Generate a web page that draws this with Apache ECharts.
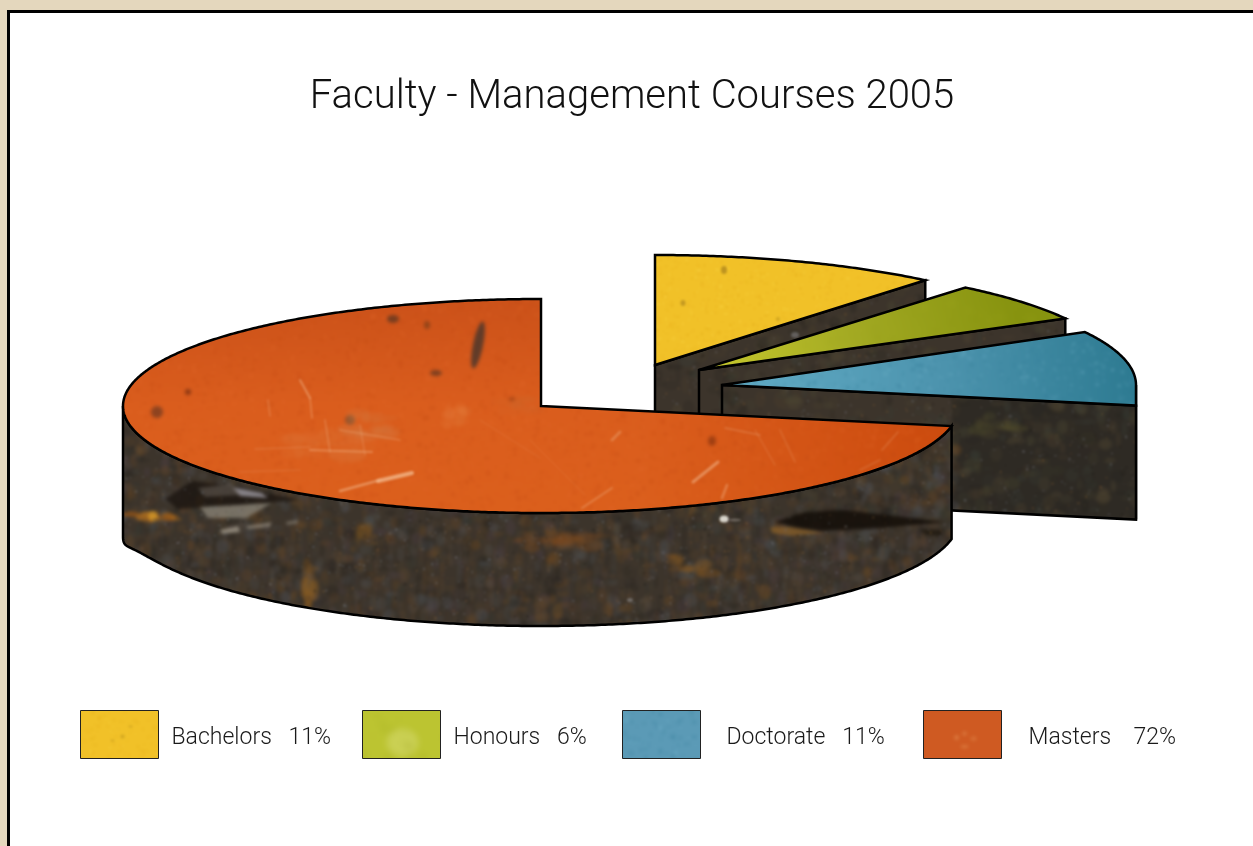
<!DOCTYPE html>
<html>
<head>
<meta charset="utf-8">
<title>Faculty - Management Courses 2005</title>
<style>
  html, body { margin: 0; height: 100%; background: #e4d7bd; overflow: hidden; }
  #frame { position: absolute; left: 7px; top: 10px; right: -10px; bottom: -10px; background: #fff; border-left: 3px solid #000; border-top: 3px solid #000; }
  #chart { position: absolute; left: 0; top: 0; width: 1253px; height: 846px; }
</style>
<script src="https://cdn.jsdelivr.net/npm/echarts@6/dist/echarts.min.js"></script>
</head>
<body>
<div id="frame"></div>
<div id="chart"></div>
<script>
const titleText = 'Faculty - Management Courses 2005'
const categories = ['Bachelors', 'Honours', 'Doctorate', 'Masters']
const percents = [11, 6, 11, 72]

// pie geometry, the slices are pulled away from the centre by hand like in the original
const center = [541, 406]
const sliceRx = [424, 418, 414, 418]
const sliceRy = [110, 107, 110, 107]
const explode = [[114, -41], [158, -36], [181, -21], [0, 0]]
const legendLeft = [80, 362, 622, 923]
const legendTextGap = [8, 8, 21, 22]
const legendSpaces = ['   ', '   ', '   ', '    ']

// small seeded generator, only used for the paint textures
let seed = 7
function rnd(a, b) {
  seed = (seed * 16807) % 2147483647
  return a + (b - a) * (seed / 2147483647)
}
function pick(list) {
  return list[Math.floor(rnd(0, list.length))]
}

function newTexture(paint) {
  const c = document.createElement('canvas')
  c.width = 1253
  c.height = 846
  paint(c.getContext('2d'))
  return { image: c, repeat: 'repeat' }
}

// blur what is painted so far, once for the whole canvas
function soften(ctx, px) {
  const tmp = document.createElement('canvas')
  tmp.width = 1253
  tmp.height = 846
  tmp.getContext('2d').drawImage(ctx.canvas, 0, 0)
  ctx.filter = 'blur(' + px + 'px)'
  ctx.drawImage(tmp, 0, 0)
  ctx.filter = 'none'
}

function grain(ctx, count, colors, size, alpha) {
  for (let i = 0; i < count; i++) {
    ctx.globalAlpha = rnd(alpha * 0.4, alpha)
    ctx.fillStyle = pick(colors)
    ctx.fillRect(rnd(0, 1253), rnd(0, 846), rnd(1, size), rnd(1, size))
  }
  ctx.globalAlpha = 1
}

function blob(ctx, x, y, w, h, color, alpha, rot) {
  ctx.globalAlpha = alpha
  ctx.fillStyle = color
  ctx.beginPath()
  ctx.ellipse(x, y, w, h, rot || 0, 0, Math.PI * 2)
  ctx.fill()
  ctx.globalAlpha = 1
}

// a patch of small blots, looks less like a drawn ellipse
function patch(ctx, x, y, w, h, colors, alpha, count) {
  for (let i = 0; i < count; i++) {
    blob(ctx, x + rnd(-w, w), y + rnd(-h, h), rnd(2, w / 2 + 3), rnd(1.5, h / 2 + 2), pick(colors), rnd(alpha * 0.4, alpha))
  }
}

function shape(ctx, pts, color, alpha) {
  ctx.globalAlpha = alpha
  ctx.fillStyle = color
  ctx.beginPath()
  pts.forEach((p, i) => (i ? ctx.lineTo(p[0], p[1]) : ctx.moveTo(p[0], p[1])))
  ctx.closePath()
  ctx.fill()
  ctx.globalAlpha = 1
}

function scratch(ctx, x1, y1, x2, y2, width, alpha) {
  ctx.globalAlpha = alpha
  ctx.strokeStyle = '#f2b68a'
  ctx.lineWidth = width
  ctx.lineCap = 'round'
  ctx.beginPath()
  ctx.moveTo(x1, y1)
  ctx.lineTo(x2, y2)
  ctx.stroke()
  ctx.globalAlpha = 1
}

const yellowPaint = newTexture(ctx => {
  ctx.fillStyle = '#f1c128'
  ctx.fillRect(0, 0, 1253, 846)
  grain(ctx, 30000, ['#f6cf3c', '#e8b31e', '#eeb926'], 4, 0.5)
  blob(ctx, 724, 270, 3, 4, '#a8801c', 0.7)
  blob(ctx, 683, 303, 2.5, 3, '#a8801c', 0.6)
  blob(ctx, 778, 319, 2, 2, '#b88f1c', 0.5)
  blob(ctx, 42, 26, 2, 2, '#b88f1c', 0.5)
  blob(ctx, 50, 16, 2, 1, '#b88f1c', 0.5)
  blob(ctx, 32, 30, 2, 1, '#b88f1c', 0.5)
  soften(ctx, 1)
})

const olivePaint = newTexture(ctx => {
  const g = ctx.createLinearGradient(730, 370, 1010, 290)
  g.addColorStop(0, '#c2c42c')
  g.addColorStop(0.45, '#a2a922')
  g.addColorStop(1, '#87930f')
  ctx.fillStyle = g
  ctx.fillRect(0, 0, 1253, 846)
  ctx.fillStyle = '#bcc431'
  ctx.fillRect(0, 0, 90, 60)
  blob(ctx, 40, 32, 16, 14, '#cdd35c', 0.8)
  grain(ctx, 9000, ['#b8bb30', '#88900f', '#9aa31c'], 7, 0.25)
  soften(ctx, 3)
})

const bluePaint = newTexture(ctx => {
  const g = ctx.createLinearGradient(760, 390, 1130, 370)
  g.addColorStop(0, '#5ea8c2')
  g.addColorStop(0.5, '#4c93ad')
  g.addColorStop(1, '#2e7b92')
  ctx.fillStyle = g
  ctx.fillRect(0, 0, 1253, 846)
  ctx.fillStyle = '#5b9ab6'
  ctx.fillRect(0, 0, 90, 60)
  grain(ctx, 30000, ['#6fb0c8', '#367f9a', '#4a8fa8'], 5, 0.3)
  soften(ctx, 1.5)
})

const orangePaint = newTexture(ctx => {
  const g = ctx.createLinearGradient(0, 300, 0, 513)
  g.addColorStop(0, '#cb5119')
  g.addColorStop(0.5, '#da5d1d')
  g.addColorStop(1, '#db5f1c')
  ctx.fillStyle = g
  ctx.fillRect(0, 0, 1253, 846)
  const r = ctx.createLinearGradient(640, 0, 950, 0)
  r.addColorStop(0, 'rgba(200,70,10,0)')
  r.addColorStop(1, 'rgba(200,70,10,0.8)')
  ctx.fillStyle = r
  ctx.fillRect(640, 400, 320, 120)
  grain(ctx, 26000, ['#e2682a', '#c44c15', '#d85a1c'], 5, 0.35)
  // top left corner is what the legend swatch shows
  ctx.fillStyle = '#cf5a22'
  ctx.fillRect(0, 0, 90, 60)
  blob(ctx, 33, 27, 2, 2, '#ea9a5c', 0.7)
  blob(ctx, 41, 23, 2, 2, '#ea9a5c', 0.6)
  blob(ctx, 41, 36, 4, 1.5, '#ea9a5c', 0.5)
  blob(ctx, 50, 28, 3, 2, '#ea9a5c', 0.4)
  // marks on the metal
  blob(ctx, 478, 345, 5, 24, '#4e372c', 0.85, 0.2)
  blob(ctx, 393, 319, 6, 4, '#6a3a20', 0.85)
  blob(ctx, 427, 325, 3, 4, '#7a3d18', 0.7)
  blob(ctx, 436, 373, 6, 3, '#6a3a20', 0.8)
  blob(ctx, 157, 412, 6, 6, '#7a3d20', 0.8)
  blob(ctx, 188, 392, 3, 3, '#7a3010', 0.8)
  blob(ctx, 350, 420, 5, 5, '#7a5030', 0.7)
  blob(ctx, 712, 441, 4, 5, '#8a3410', 0.7)
  blob(ctx, 512, 399, 3, 2, '#8a3410', 0.6)
  patch(ctx, 455, 415, 10, 10, ['#e88a48'], 0.18, 14)
  patch(ctx, 515, 405, 22, 8, ['#c8703a'], 0.12, 14)
  patch(ctx, 370, 425, 24, 12, ['#d08a58'], 0.14, 20)
  patch(ctx, 330, 445, 40, 14, ['#e08850'], 0.12, 24)
  soften(ctx, 1.5)
  scratch(ctx, 340, 491, 380, 480, 2.5, 0.55)
  scratch(ctx, 378, 481, 412, 473, 4, 0.8)
  scratch(ctx, 300, 380, 310, 398, 2, 0.5)
  scratch(ctx, 310, 398, 312, 418, 1.5, 0.4)
  scratch(ctx, 268, 400, 270, 416, 1.5, 0.3)
  scratch(ctx, 310, 450, 372, 452, 2, 0.4)
  scratch(ctx, 340, 430, 400, 440, 1.5, 0.3)
  scratch(ctx, 325, 420, 330, 452, 1.5, 0.35)
  scratch(ctx, 360, 425, 365, 455, 1.5, 0.25)
  scratch(ctx, 255, 449, 310, 447, 1.5, 0.2)
  scratch(ctx, 240, 472, 300, 470, 1.5, 0.15)
  scratch(ctx, 582, 508, 612, 488, 2, 0.35)
  scratch(ctx, 693, 482, 718, 462, 3, 0.55)
  scratch(ctx, 755, 430, 775, 465, 1.2, 0.22)
  scratch(ctx, 725, 428, 760, 435, 1.5, 0.3)
  scratch(ctx, 780, 430, 795, 462, 1.5, 0.22)
  scratch(ctx, 612, 440, 620, 432, 3, 0.35)
  scratch(ctx, 882, 450, 898, 432, 1.5, 0.25)
  scratch(ctx, 722, 498, 727, 485, 2.5, 0.4)
  scratch(ctx, 860, 470, 880, 460, 1.5, 0.22)
  scratch(ctx, 480, 420, 540, 458, 1, 0.15)
  scratch(ctx, 530, 440, 585, 495, 1, 0.14)
  soften(ctx, 1)
})

const rustPaint = newTexture(ctx => {
  ctx.fillStyle = '#3c342b'
  ctx.fillRect(0, 0, 1253, 846)
  // the darker back slices, grime with a bit of olive
  ctx.fillStyle = '#2e2a24'
  ctx.fillRect(952, 380, 300, 150)
  for (let i = 0; i < 900; i++) {
    blob(ctx, rnd(650, 1140), rnd(280, 520), rnd(2, 9), rnd(2, 9), pick(['#4a4632', '#26241f', '#544a34', '#3a4038', '#2e2a24', '#4a3e2c']), rnd(0.12, 0.4))
  }
  // rust and soot on the big wall, no real direction to it
  const wallColors = ['#5a4630', '#2a2620', '#62452a', '#4c4c4a', '#463a2c', '#6e4a24', '#35362f', '#4a3e42', '#24201c', '#50545a']
  for (let i = 0; i < 3000; i++) {
    blob(ctx, rnd(110, 960), rnd(430, 630), rnd(1.5, 7), rnd(2, 8), pick(wallColors), rnd(0.15, 0.45))
  }
  for (let i = 0; i < 1200; i++) {
    ctx.globalAlpha = rnd(0.08, 0.25)
    ctx.fillStyle = pick(wallColors)
    ctx.fillRect(rnd(110, 960), rnd(520, 630), rnd(1, 4), rnd(8, 30))
  }
  ctx.globalAlpha = 1
  patch(ctx, 312, 585, 7, 20, ['#8a5a20', '#a06a24'], 0.45, 12)
  patch(ctx, 365, 530, 10, 14, ['#80561e'], 0.35, 8)
  patch(ctx, 690, 565, 22, 10, ['#8a5a22', '#96601e'], 0.4, 12)
  patch(ctx, 565, 540, 40, 8, ['#7a4a20', '#8a4e1c'], 0.4, 16)
  patch(ctx, 150, 517, 24, 4, ['#a86a20', '#8a5018'], 0.8, 12)
  blob(ctx, 153, 516, 5, 5, '#d09428', 0.85)
  patch(ctx, 1000, 425, 24, 10, ['#4e4a2c', '#55502e'], 0.45, 10)
  // dark gash on the left and its pale metal
  shape(ctx, [[165, 499], [192, 481], [240, 487], [300, 500], [240, 505], [178, 509]], '#1c1510', 0.8)
  shape(ctx, [[200, 507], [272, 503], [246, 518], [208, 518]], '#827c70', 0.85)
  shape(ctx, [[232, 487], [262, 493], [268, 498], [240, 496]], '#a09ca4', 0.8)
  shape(ctx, [[198, 488], [232, 484], [240, 495], [205, 497]], '#6e665e', 0.5)
  shape(ctx, [[220, 530], [238, 526], [240, 532], [222, 534]], '#a8a090', 0.75)
  shape(ctx, [[246, 526], [272, 522], [270, 527], [248, 529]], '#988f80', 0.7)
  shape(ctx, [[286, 522], [298, 520], [298, 523], [287, 525]], '#988f80', 0.6)
  // dark gash on the right
  shape(ctx, [[775, 522], [805, 512], [845, 510], [945, 522], [880, 528], [820, 531], [790, 526]], '#150f0a', 0.9)
  shape(ctx, [[770, 527], [790, 527], [825, 533], [790, 536], [772, 533]], '#8a602a', 0.75)
  shape(ctx, [[920, 529], [945, 530], [940, 536], [925, 535]], '#1a140c', 0.7)
  soften(ctx, 1.8)
  blob(ctx, 724, 519, 4.5, 3.5, '#e8e4dc', 0.9)
  blob(ctx, 735, 520, 6, 1.5, '#a09890', 0.5)
  blob(ctx, 795, 335, 4, 3, '#8c8c90', 0.5)
  blob(ctx, 630, 600, 3, 2, '#9a9a9c', 0.5)
  grain(ctx, 9000, ['#7c7c84', '#5a5450', '#8a6034', '#1e1a16', '#6a7480'], 3, 0.35)
  soften(ctx, 0.8)
})

const paints = [yellowPaint, olivePaint, bluePaint, orangePaint]
const stroke = { stroke: '#000', lineWidth: 2.5, lineJoin: 'miter' }

// turned clockwise from 12 o'clock, in degrees
// the pulled out slices stop widening past 3 o'clock, their corner sits straight under the rim
function edge(c, deg, index, extra) {
  const t = deg * Math.PI / 180
  const s = index !== 3 && deg > 90 ? 1 : Math.sin(t)
  return [c[0] + sliceRx[index] * s, c[1] - sliceRy[index] * Math.cos(t) + (extra || 0)]
}

// the big slab is a bit deeper at its far left corner
function depthAt(deg, index) {
  if (index !== 3) return 114
  const s = Math.max(0, -Math.sin(deg * Math.PI / 180))
  return 113 + 18 * Math.pow(s, 40)
}

function arcPoints(c, from, to, index, lower) {
  const pts = []
  const n = Math.max(2, Math.ceil(Math.abs(to - from) * 2))
  for (let i = 0; i <= n; i++) {
    const d = from + (to - from) * i / n
    pts.push(edge(c, d, index, lower ? depthAt(d, index) : 0))
  }
  return pts
}

function renderSlice(index) {
  return function (params, api) {
    const start = percents.slice(0, index).reduce((a, b) => a + b, 0) * 3.6
    const end = start + api.value(0) * 3.6
    const c = [center[0] + explode[index][0], center[1] + explode[index][1]]
    const d = depthAt(end, index)
    const rust = Object.assign({ fill: rustPaint }, stroke)
    const children = []

    // outer wall, only the front half of the rim
    const from = Math.max(start, 90)
    const to = Math.min(end, 270)
    if (to > from) {
      const wall = arcPoints(c, from, to, index, false).concat(arcPoints(c, to, from, index, true))
      children.push({ type: 'polygon', shape: { points: wall }, style: rust })
    }
    // flat cut faces that look down at the viewer
    if (Math.sin(end * Math.PI / 180) > 0.001) {
      const p = edge(c, end, index)
      children.push({ type: 'polygon', shape: { points: [c, p, [p[0], p[1] + d], [c[0], c[1] + d]] }, style: rust })
    }
    const top = [c].concat(arcPoints(c, start, end, index, false))
    children.push({ type: 'polygon', shape: { points: top }, style: Object.assign({ fill: paints[index] }, stroke) })
    return { type: 'group', children: children }
  }
}

const chart = echarts.init(document.getElementById('chart'), null, { renderer: 'canvas' })

chart.setOption({
  animation: false,
  backgroundColor: 'transparent',
  title: {
    text: titleText,
    left: 632,
    top: 78,
    textAlign: 'center',
    padding: 0,
    textStyle: { fontFamily: 'Roboto', fontWeight: 300, fontSize: 40, color: '#111' }
  },
  legend: categories.map((name, i) => ({
    data: [{ name: name, icon: 'rect', itemStyle: { color: paints[i], borderColor: '#222', borderWidth: 1 } }],
    left: legendLeft[i],
    top: 710,
    padding: 0,
    itemWidth: 78,
    itemHeight: 48,
    selectedMode: false,
    formatter: n => '{t|' + n + legendSpaces[i] + percents[i] + '%}',
    textStyle: {
      rich: {
        t: { fontFamily: 'Roboto', fontWeight: 300, fontSize: 23, color: '#1a1a1a', padding: [8, 0, 0, legendTextGap[i]] }
      }
    }
  })),
  series: categories.map((name, i) => ({
    name: name,
    type: 'custom',
    coordinateSystem: 'none',
    silent: true,
    itemStyle: { color: paints[i] },
    renderItem: renderSlice(i),
    data: [[percents[i]]]
  }))
})
</script>
</body>
</html>
